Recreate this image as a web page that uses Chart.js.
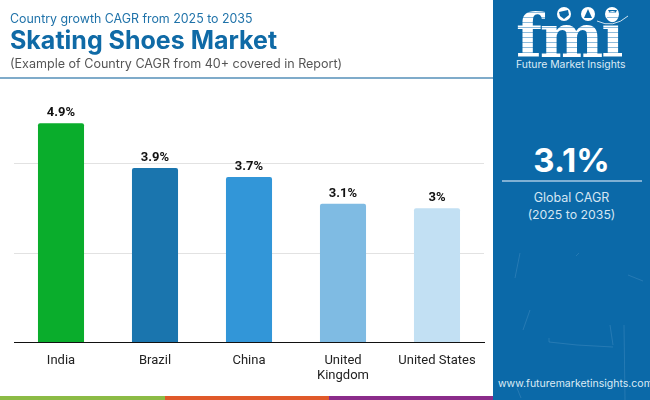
<!DOCTYPE html>
<html>
<head>
<meta charset="utf-8">
<script src="https://cdn.jsdelivr.net/npm/chart.js@4"></script>
<style>
    html, body { margin: 0; padding: 0; background: #fff; }
    #page { position: relative; width: 650px; height: 400px; overflow: hidden; font-family: "Inter", sans-serif; }
    #page div { position: absolute; white-space: nowrap; }
    #grafica { position: absolute; left: 0; top: 0; }
    #sub1 { left: 10px; top: 11px; font-size: 12.4px; color: #1f72a9; }
    #titulo { left: 10px; top: 25px; font-size: 25px; font-weight: 700; color: #0f6aa6; }
    #sub2 { left: 10px; top: 56px; font-size: 12.55px; color: #555; }
    #linea { left: 0; top: 77px; width: 493px; height: 2px; background: #7fabca; }
    #panel { left: 493px; top: 0; width: 157px; height: 400px; background: #0b69a8; }
    #fmi { left: 516px; top: 3px; line-height: 66px; font-family: "DejaVu Serif", serif; font-weight: 700; font-size: 60px; letter-spacing: -2px;
        background: repeating-linear-gradient(#fff 0 4px, #8fbcdc 4px 5px); -webkit-background-clip: text; background-clip: text; color: transparent; }
    #fmiNombre { left: 516px; top: 58px; font-size: 10.4px; color: #dcebf6; }
    #cagr { left: 493px; width: 157px; text-align: center; top: 140px; font-size: 33px; font-weight: 700; color: #fff; }
    #lineaCagr { left: 502px; top: 180px; width: 140px; height: 2px; background: #7fb0d4; }
    #global1 { left: 493px; width: 157px; text-align: center; top: 190px; font-size: 12.5px; color: #d5e6f3; }
    #global2 { left: 493px; width: 157px; text-align: center; top: 207px; font-size: 12.3px; color: #d5e6f3; }
    #web { left: 498px; top: 377px; font-size: 10.5px; color: #dcebf6; }
    .franja { top: 396px; height: 4px; }
    svg { position: absolute; left: 493px; top: 0; }
</style>
</head>
<body>
<div id="page">
    <canvas id="grafica" width="493" height="400"></canvas>
    <div id="sub1">Country growth CAGR from 2025 to 2035</div>
    <div id="titulo">Skating Shoes Market</div>
    <div id="sub2">(Example of Country CAGR from 40+ covered in Report)</div>
    <div id="linea"></div>
    <div id="panel"></div>
    <svg width="157" height="400" fill="none" stroke="#8fc0e2" stroke-opacity="0.2">
        <path d="M27 253 L22 278 M86 253 L83 256 M135 275 L150 281 M131 325 L132 400 M37 310 L30 330 M56 338 L56 342 L84 345 L120 347 M120 345 L117 325 M24 388 L28 398" />
        <g fill="#fff" stroke="none">
            <circle cx="71" cy="14" r="7" />
            <circle cx="95" cy="14" r="7" />
            <circle cx="119" cy="14" r="7" />
        </g>
        <g fill="#0b69a8" stroke="none">
            <path d="M66 12 L75 10 L76 15 L71 19 L67 16 Z" />
            <path d="M95 9 L99 18 L91 18 Z" />
            <path d="M115 10 L124 10 L120 18 Z" />
        </g>
        <path d="M104 21 Q120 29 135 16" stroke="#fff" stroke-opacity="0.8" />
    </svg>
    <div id="fmi">fmi</div>
    <div id="fmiNombre">Future Market Insights</div>
    <div id="cagr"></div>
    <div id="lineaCagr"></div>
    <div id="global1">Global CAGR</div>
    <div id="global2">(2025 to 2035)</div>
    <div id="web">www.futuremarketinsights.com</div>
    <div class="franja" style="left:0;width:165px;background:#8cbb45"></div>
    <div class="franja" style="left:165px;width:164px;background:#e0592a"></div>
    <div class="franja" style="left:329px;width:164px;background:#8b2c8a"></div>
</div>
<script>
// datos
const paises = ["India", "Brazil", "China", ["United", "Kingdom"], "United States"];
const cagr = [4.9, 3.9, 3.7, 3.1, 3];
const colores = ["#0aad2c", "#1a75ae", "#3296d8", "#7fbbe3", "#c2e0f3"];
const cagrGlobal = "3.1%";

document.getElementById("cagr").innerText = cagrGlobal;

// etiquetas encima de cada barra
const etiquetas = {
    id: "etiquetas",
    afterDatasetsDraw(chart) {
        const ctx = chart.ctx;
        ctx.save();
        ctx.font = "bold 13px Roboto";
        ctx.fillStyle = "#111";
        ctx.textAlign = "center";
        ctx.textBaseline = "alphabetic";
        chart.getDatasetMeta(0).data.forEach((barra, i) => {
            ctx.fillText(cagr[i] + "%", barra.x, barra.y - 7);
        });
        ctx.restore();
    }
};

new Chart(document.getElementById("grafica").getContext("2d"), {
    type: "bar",
    data: {
        labels: paises,
        datasets: [{
            data: cagr,
            backgroundColor: colores,
            borderRadius: 2,
            categoryPercentage: 1,
            barPercentage: 0.49
        }]
    },
    options: {
        responsive: false,
        animation: false,
        layout: { padding: { left: 14, right: 9, top: 118.75, bottom: 0 } },
        plugins: { legend: { display: false }, tooltip: { enabled: false } },
        scales: {
            x: {
                afterFit(scale) { scale.height = 57.5; },
                grid: { display: false },
                border: { color: "#111", width: 1 },
                ticks: { color: "#222", font: { family: "Roboto", size: 13 }, maxRotation: 0, autoSkip: false, padding: 2 }
            },
            y: {
                min: 0,
                max: 5,
                afterFit(scale) { scale.width = 0; },
                grid: { color: "#e2e2e2", drawTicks: false },
                border: { display: false },
                ticks: { display: false, stepSize: 2, includeBounds: false }
            }
        }
    },
    plugins: [etiquetas]
});
</script>
</body>
</html>
